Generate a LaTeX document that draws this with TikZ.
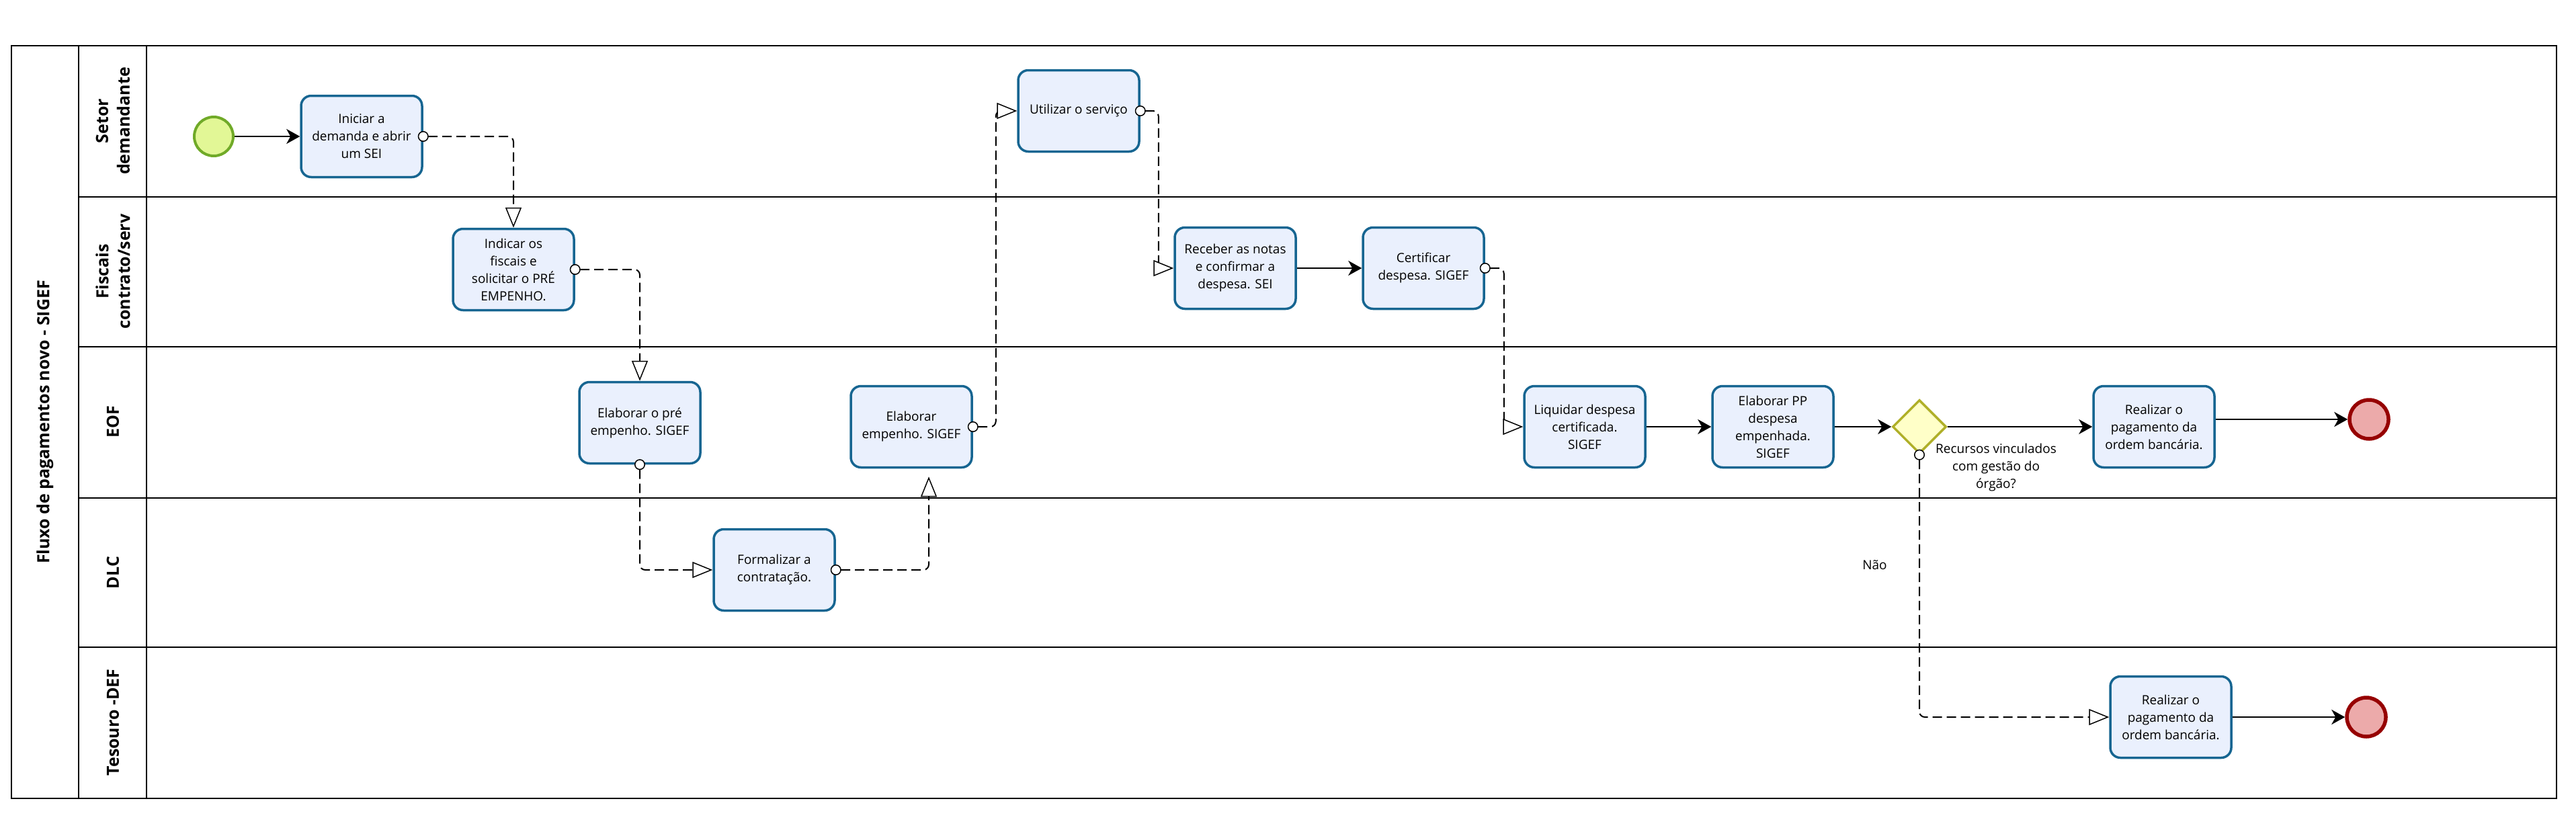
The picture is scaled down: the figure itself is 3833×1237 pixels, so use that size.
\documentclass[tikz,border=0pt]{standalone}
\usepackage{fontspec}
\setmainfont{Open Sans}
\usetikzlibrary{arrows.meta,shapes.geometric,positioning}

\definecolor{taskfill}{RGB}{234,240,253}
\definecolor{taskline}{RGB}{22,101,145}
\definecolor{startfill}{RGB}{226,247,150}
\definecolor{startline}{RGB}{112,170,40}
\definecolor{endfill}{RGB}{236,170,170}
\definecolor{endline}{RGB}{150,0,0}
\definecolor{gwfill}{RGB}{255,255,200}
\definecolor{gwline}{RGB}{175,175,40}

\tikzstyle{task} = [rectangle, draw=taskline, fill=taskfill, line width=3.5pt, rounded corners=15pt, minimum width=180pt, minimum height=121pt, align=center, inner sep=3pt, font=\fontsize{19}{26}\selectfont]
\tikzstyle{startev} = [circle, draw=startline, fill=startfill, line width=4pt, minimum size=58pt, inner sep=0pt]
\tikzstyle{endev} = [circle, draw=endline, fill=endfill, line width=5.5pt, minimum size=58pt, inner sep=0pt]
\tikzstyle{gateway} = [diamond, aspect=1, draw=gwline, fill=gwfill, line width=3.5pt, minimum size=80pt, inner sep=0pt]
\tikzstyle{seqflow} = [line width=2.5pt, -{Stealth[length=20pt, width=22pt, inset=6pt]}]
\tikzstyle{msgflow} = [line width=2pt, dash pattern=on 14pt off 7pt, rounded corners=8pt, shorten <=-8pt, {Circle[fill=white, length=16pt, width=16pt, line width=1.5pt]}-{Triangle[fill=white, length=30pt, width=24pt, line width=1.5pt]}]
\tikzstyle{poolline} = [line width=2.5pt, black]
\tikzstyle{lanetitle} = [rotate=90, align=center, font=\bfseries\fontsize{25}{32}\selectfont]
\tikzstyle{flowtext} = [align=center, font=\fontsize{19}{26}\selectfont]

\begin{document}
\begin{tikzpicture}[x=1pt, y=-1pt, node distance=280pt]
    \useasboundingbox (0,0) rectangle (3833,1237);

    % pool and lanes
    \draw [poolline] (17,68) rectangle (3804,1188);
    \draw [poolline] (117,68) -- (117,1188);
    \draw [poolline] (218,68) -- (218,1188);
    \foreach \y in {293,516,741,963}
        \draw [poolline] (117,\y) -- (3804,\y);
    \node (pooltitle) [lanetitle] at (67,628) {Fluxo de pagamentos novo - SIGEF};
    \node (lane1) [lanetitle] at (168,180) {Setor\\demandante};
    \node (lane2) [lanetitle] at (168,404) {Fiscais\\contrato/serv};
    \node (lane3) [lanetitle] at (168,628) {EOF};
    \node (lane4) [lanetitle] at (168,852) {DLC};
    \node (lane5) [lanetitle] at (168,1075) {Tesouro -DEF};

    % events, tasks and gateway
    \node (start) [startev] at (318,203) {};
    \node (iniciar) [task] at (538,203) {Iniciar a\\demanda e abrir\\um SEI};
    \node (indicar) [task] at (764,401) {Indicar os\\fiscais e\\solicitar o PRÉ\\EMPENHO.};
    \node (elabpre) [task] at (952,629) {Elaborar o pré\\empenho. SIGEF};
    \node (formal) [task] at (1152,848) {Formalizar a\\contratação.};
    \node (empenho) [task] at (1356,635) {Elaborar\\empenho. SIGEF};
    \node (utilizar) [task] at (1605,165) {Utilizar o serviço};
    \node (receber) [task] at (1838,399) {Receber as notas\\e confirmar a\\despesa. SEI};
    \node (certif) [task, right of = receber] {Certificar\\despesa. SIGEF};
    \node (liquidar) [task] at (2358,635) {Liquidar despesa\\certificada.\\SIGEF};
    \node (elabpp) [task, right of = liquidar] {Elaborar PP\\despesa\\empenhada.\\SIGEF};
    \node (gw) [gateway] at (2856,635) {};
    \node (gwtext) [flowtext] at (2970,696) {Recursos vinculados\\com gestão do\\órgão?};
    \node (real1) [task] at (3205,635) {Realizar o\\pagamento da\\ordem bancária.};
    \node (end1) [endev] at (3525,624) {};
    \node (real2) [task] at (3230,1067) {Realizar o\\pagamento da\\ordem bancária.};
    \node (end2) [endev] at (3521,1067) {};

    % sequence flows
    \draw [seqflow] (start) -- (iniciar);
    \draw [seqflow] (receber) -- (certif);
    \draw [seqflow] (liquidar) -- (elabpp);
    \draw [seqflow] (elabpp) -- (gw);
    \draw [seqflow] (gw) -- (real1);
    \draw [seqflow] (real1.east |- end1) -- (end1);
    \draw [seqflow] (real2) -- (end2);

    % message flows
    \draw [msgflow] (iniciar.east) -| (indicar.north);
    \draw [msgflow] (indicar.east) -| (elabpre.north);
    \draw [msgflow] (elabpre.south) |- (formal.west);
    \draw [msgflow, shorten >=12pt] (formal.east) -| ([xshift=26pt]empenho.south);
    \draw [msgflow] (empenho.east) -- ++(34,0) |- (utilizar.west);
    \draw [msgflow] (utilizar.east) -- ++(27,0) |- (receber.west);
    \draw [msgflow] (certif.east) -- ++(28,0) |- (liquidar.west);
    \draw [msgflow] (gw.south) |- node [pos=0.21, left=44pt, flowtext] {Não} (real2.west);
\end{tikzpicture}
\end{document}
